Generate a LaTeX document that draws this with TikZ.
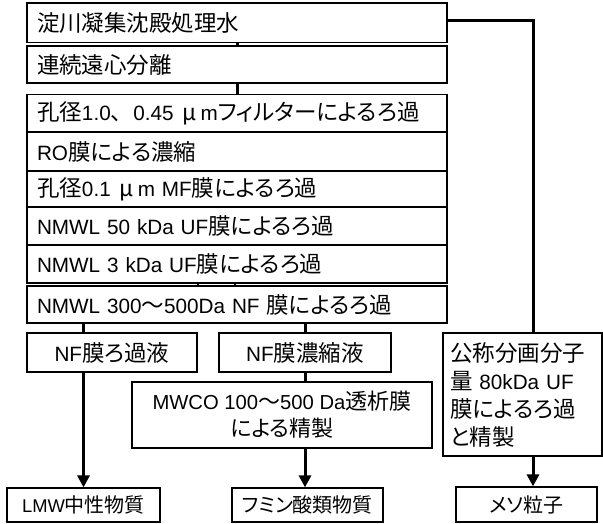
\documentclass[tikz,border=0pt]{standalone}
\usepackage{fontspec}
\setmainfont{Liberation Sans}[Scale=0.92]
\newfontfamily\jp[RawFeature=+palt]{Noto Sans CJK JP}
\newfontfamily\jpfull{Noto Sans CJK JP}
\usetikzlibrary{arrows.meta}
\begin{document}
\begin{tikzpicture}[x=1pt,y=-1pt,
  every node/.style={font=\fontsize{22.5}{28}\selectfont},
  sbox/.style={draw, line width=1.2pt, text width=400pt, inner xsep=10pt, inner ysep=0pt, align=left},
  cbox/.style={draw, line width=1.2pt, inner sep=0pt, align=center},
  conn/.style={line width=3pt},
  arr/.style={line width=3pt, -{Triangle[width=12pt,length=12pt]}},
  tickline/.style={line width=2pt}]
\useasboundingbox (0,0) rectangle (603,523);

\node[sbox, minimum height=39.5pt] (B1) at (237,22.75) {{\jp 淀川凝集沈殿処理水}};
\node[sbox, minimum height=37pt] (B2) at (237,64.5) {{\jp 連続遠心分離}};
\node[sbox, minimum height=37.5pt] (B3) at (237,113.25) {{\jp 孔径}1.0{\jpfull 、}0.45 \hspace{2pt}{\jp μ}\hspace{4pt}m{\jp フィルターによるろ過}};
\node[sbox, minimum height=39pt] (B4) at (237,151.5) {RO{\jp 膜による濃縮}};
\node[sbox, minimum height=36pt] (B5) at (237,189) {{\jp 孔径}0.1 \hspace{2pt}{\jp μ}\hspace{4pt}m MF{\jp 膜によるろ過}};
\node[sbox, minimum height=38pt] (B6) at (237,226) {NMWL 50 kDa UF{\jp 膜によるろ過}};
\node[sbox, minimum height=38pt] (B7) at (237,264) {NMWL 3 kDa UF{\jp 膜によるろ過}};
\node[sbox, minimum height=37pt] (B8) at (237,304.5) {NMWL 300{\jp 〜}500Da NF {\jp 膜によるろ過}};

\node[cbox, minimum width=170pt, minimum height=39pt] (NFa) at (112,352.5) {NF{\jp 膜ろ過液}};
\node[cbox, minimum width=172pt, minimum height=39pt] (NFb) at (305,352.5) {NF{\jp 膜濃縮液}};
\node[cbox, minimum width=300pt, minimum height=66pt, font=\fontsize{22}{27}\selectfont] (MW) at (282,415) {MWCO 100{\jp 〜}500 Da{\jp 透析膜}\\{\jp による精製}};
\node[draw, line width=1.2pt, minimum height=123pt, text width=145pt, inner xsep=7pt, inner ysep=0pt, align=left] (R) at (522.5,394.5) {{\jp 公称分画分子}\\{\jp 量} 80kDa UF\\{\jp 膜によるろ過}\\{\jp と精製}};

\node[cbox, minimum width=153pt, minimum height=34pt, font=\fontsize{20}{24}\selectfont] (L1) at (83.5,505) {LMW{\jp 中性物質}};
\node[cbox, minimum width=151pt, minimum height=34pt, font=\fontsize{20}{24}\selectfont] (L2) at (307.5,505) {{\jp フミン酸類物質}};
\node[cbox, minimum width=141pt, minimum height=35pt, font=\fontsize{20}{24}\selectfont] (L3) at (526.5,504.5) {{\jp メソ粒子}};

\draw[conn] (B1.south) -- (B2.north);
\draw[conn] (B2.south) -- (B3.north);
\draw[tickline] ([xshift=-39pt]B7.south) -- ([xshift=-39pt]B8.north);
\draw[tickline] ([xshift=-2pt]B7.south) -- ([xshift=-2pt]B8.north);
\draw[conn] (B8.south -| L1.north) -- (NFa.north -| L1.north);
\draw[conn] (B8.south -| NFb.north) -- (NFb.north);
\draw[conn] (NFb.south) -- (MW.north -| NFb.south);
\draw[arr] (NFa.south -| L1.north) -- (L1.north);
\draw[arr] (MW.south -| NFb.south) -- (L2.north -| NFb.south);
\draw[arr] ([xshift=10.5pt]R.south) -- ([xshift=10.5pt]R.south |- L3.north);
\draw[conn] ([yshift=2.75pt]B1.east) -| ([xshift=10.5pt]R.north);
\end{tikzpicture}
\end{document}
